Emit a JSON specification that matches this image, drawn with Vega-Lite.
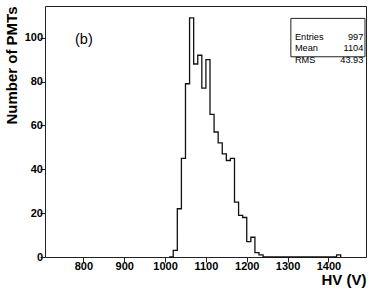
{
  "$schema": "https://vega.github.io/schema/vega-lite/v6.json",
  "width": 321,
  "height": 251,
  "autosize": {"type": "none"},
  "padding": {"left": 45, "top": 6, "right": 8, "bottom": 35},
  "background": "white",
  "config": {
    "view": {"stroke": "#222", "strokeWidth": 1},
    "axis": {
      "grid": false,
      "domain": false,
      "labelFont": "Liberation Sans",
      "labelFontWeight": "bold",
      "labelFontSize": 11,
      "labelColor": "black",
      "tickColor": "#222",
      "tickWidth": 1,
      "titleFont": "Liberation Sans",
      "titleFontWeight": "bold",
      "titleFontSize": 15,
      "titleColor": "black",
      "labelFlush": false,
      "labelOverlap": false,
      "labelBound": false,
      "format": "d",
      "zindex": 1
    }
  },
  "datasets": {
    "hist": [
      {"hv": 1010, "n": 0},
      {"hv": 1020, "n": 3},
      {"hv": 1030, "n": 22},
      {"hv": 1040, "n": 45},
      {"hv": 1050, "n": 79},
      {"hv": 1060, "n": 109},
      {"hv": 1070, "n": 88},
      {"hv": 1080, "n": 92},
      {"hv": 1090, "n": 77},
      {"hv": 1100, "n": 90},
      {"hv": 1110, "n": 65},
      {"hv": 1120, "n": 57},
      {"hv": 1130, "n": 52},
      {"hv": 1140, "n": 47},
      {"hv": 1150, "n": 44},
      {"hv": 1160, "n": 45},
      {"hv": 1170, "n": 25},
      {"hv": 1180, "n": 19},
      {"hv": 1190, "n": 18},
      {"hv": 1200, "n": 7},
      {"hv": 1210, "n": 9},
      {"hv": 1220, "n": 2},
      {"hv": 1230, "n": 1},
      {"hv": 1240, "n": 0},
      {"hv": 1410, "n": 0},
      {"hv": 1420, "n": 1},
      {"hv": 1430, "n": 0}
    ],
    "one": [{}]
  },
  "resolve": {
    "scale": {"x": "shared", "y": "shared"},
    "axis": {"x": "independent", "y": "independent"}
  },
  "layer": [
    {
      "data": {"name": "hist"},
      "mark": {"type": "line", "interpolate": "step-after", "color": "#111", "strokeWidth": 1.3},
      "encoding": {
        "x": {"field": "hv", "type": "quantitative",
              "scale": {"domain": [706, 1492], "nice": false, "zero": false},
              "axis": {"orient": "bottom", "ticks": true, "tickSize": 5, "labelPadding": -2,
                       "values": [800, 900, 1000, 1100, 1200, 1300, 1400],
                       "title": "HV (V)", "titleAnchor": "end", "titleAlign": "right", "titlePadding": 1}},
        "y": {"field": "n", "type": "quantitative",
              "scale": {"domain": [0, 114.45], "nice": false, "zero": false},
              "axis": {"orient": "left", "ticks": true, "tickSize": 5, "labelPadding": -2.5,
                       "values": [0, 20, 40, 60, 80, 100],
                       "title": "Number of PMTs", "titleAnchor": "end", "titleAlign": "right", "titlePadding": 5}}
      }
    },
    {
      "data": {"name": "one"},
      "mark": {"type": "text", "font": "Liberation Sans", "fontSize": 14.5, "align": "left", "baseline": "middle", "color": "black"},
      "encoding": {
        "x": {"datum": 779.5, "type": "quantitative", "scale": {"domain": [706, 1492], "nice": false, "zero": false}, "axis": null},
        "y": {"datum": 99, "type": "quantitative", "scale": {"domain": [0, 114.45], "nice": false, "zero": false}, "axis": null},
        "text": {"value": "(b)"}
      }
    },
    {
      "data": {"name": "one"},
      "mark": {"type": "rect", "fill": "white", "stroke": "#222", "strokeWidth": 1},
      "encoding": {
        "x": {"datum": 1308, "type": "quantitative", "scale": {"domain": [706, 1492], "nice": false, "zero": false}, "axis": null},
        "x2": {"datum": 1489.5},
        "y": {"datum": 108.8, "type": "quantitative", "scale": {"domain": [0, 114.45], "nice": false, "zero": false}, "axis": null},
        "y2": {"datum": 91.3}
      }
    },
    {
      "data": {"name": "one"},
      "mark": {"type": "text", "font": "Liberation Sans", "fontSize": 9.2, "align": "left", "baseline": "middle", "lineHeight": 11.65, "color": "black"},
      "encoding": {
        "x": {"datum": 1318, "type": "quantitative", "scale": {"domain": [706, 1492], "nice": false, "zero": false}, "axis": null},
        "y": {"datum": 100.4, "type": "quantitative", "scale": {"domain": [0, 114.45], "nice": false, "zero": false}, "axis": null},
        "text": {"value": ["Entries", "Mean", "RMS"]}
      }
    },
    {
      "data": {"name": "one"},
      "mark": {"type": "text", "font": "Liberation Sans", "fontSize": 9.2, "align": "right", "baseline": "middle", "lineHeight": 11.65, "color": "black"},
      "encoding": {
        "x": {"datum": 1485.4, "type": "quantitative", "scale": {"domain": [706, 1492], "nice": false, "zero": false}, "axis": null},
        "y": {"datum": 100.4, "type": "quantitative", "scale": {"domain": [0, 114.45], "nice": false, "zero": false}, "axis": null},
        "text": {"value": ["997", "1104", "43.93"]}
      }
    }
  ]
}
